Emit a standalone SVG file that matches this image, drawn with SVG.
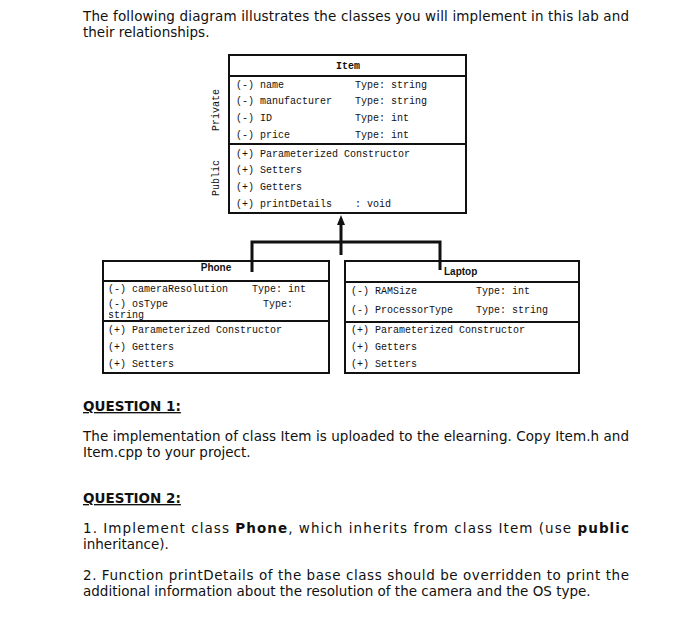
<svg xmlns="http://www.w3.org/2000/svg" width="700" height="631" viewBox="0 0 700 631">
<style>
.p{font-family:"DejaVu Sans","Liberation Sans",sans-serif;font-size:13.5px;fill:#111}
.q{font-family:"DejaVu Sans","Liberation Sans",sans-serif;font-size:13.5px;font-weight:bold;fill:#111;text-decoration:underline}
.m{font-family:"Liberation Mono","DejaVu Sans Mono",monospace;font-size:10px;fill:#111}
.t{font-family:"Liberation Sans","DejaVu Sans",sans-serif;font-size:10px;font-weight:bold;fill:#111}
.tm{font-family:"Liberation Mono","DejaVu Sans Mono",monospace;font-size:10px;font-weight:bold;fill:#111}
.box{fill:#fff;stroke:#111;stroke-width:2}
.ln{stroke:#111;stroke-width:2;fill:none}
.c{stroke:#111;stroke-width:3;fill:none}
</style>
<defs>
<marker id="ah" markerWidth="8" markerHeight="8" refX="4" refY="4" orient="auto" markerUnits="userSpaceOnUse">
<path d="M0,8 L4,0 L8,8 Z" fill="#111"/>
</marker>
</defs>
<rect width="700" height="631" fill="#fff"/>
<text class="p" x="83" y="21" textLength="546" lengthAdjust="spacing">The following diagram illustrates the classes you will implement in this lab and</text>
<text class="p" x="83" y="37">their relationships.</text>

<g id="Item">
<rect class="box" x="229" y="55" width="237" height="158"/>
<line class="ln" x1="229" y1="76" x2="466" y2="76"/>
<line class="ln" x1="229" y1="144" x2="466" y2="144"/>
<text class="tm" x="348" y="69" text-anchor="middle">Item</text>
<text class="m" x="236" y="88">(-) name</text><text class="m" x="355" y="88">Type: string</text>
<text class="m" x="236" y="104">(-) manufacturer</text><text class="m" x="355" y="104">Type: string</text>
<text class="m" x="236" y="121">(-) ID</text><text class="m" x="355" y="121">Type: int</text>
<text class="m" x="236" y="138">(-) price</text><text class="m" x="355" y="138">Type: int</text>
<text class="m" x="236" y="157">(+) Parameterized Constructor</text>
<text class="m" x="236" y="173">(+) Setters</text>
<text class="m" x="236" y="190">(+) Getters</text>
<text class="m" x="236" y="207">(+) printDetails</text><text class="m" x="355" y="207">: void</text>
<text class="m" transform="translate(219,110) rotate(-90)" text-anchor="middle">Private</text>
<text class="m" transform="translate(219,178) rotate(-90)" text-anchor="middle">Public</text>
</g>

<g id="Phone">
<rect class="box" x="103" y="261" width="226" height="112"/>
<line class="ln" x1="103" y1="281" x2="329" y2="281"/>
<line class="ln" x1="103" y1="321" x2="329" y2="321"/>
<text class="t" x="216" y="271" text-anchor="middle">Phone</text>
<text class="m" x="108" y="292">(-) cameraResolution</text><text class="m" x="252" y="292">Type: int</text>
<text class="m" x="108" y="307">(-) osType</text><text class="m" x="263" y="307">Type:</text>
<text class="m" x="108" y="318">string</text>
<text class="m" x="108" y="333">(+) Parameterized Constructor</text>
<text class="m" x="108" y="350">(+) Getters</text>
<text class="m" x="108" y="367">(+) Setters</text>
</g>

<g id="Laptop">
<rect class="box" x="345" y="261" width="234" height="112"/>
<line class="ln" x1="345" y1="282" x2="579" y2="282"/>
<line class="ln" x1="345" y1="322" x2="579" y2="322"/>
<text class="t" x="444" y="275">Laptop</text>
<text class="m" x="351" y="294">(-) RAMSize</text><text class="m" x="476" y="294">Type: int</text>
<text class="m" x="351" y="313">(-) ProcessorType</text><text class="m" x="476" y="313">Type: string</text>
<text class="m" x="351" y="333">(+) Parameterized Constructor</text>
<text class="m" x="351" y="350">(+) Getters</text>
<text class="m" x="351" y="367">(+) Setters</text>
</g>

<g id="connectors">
<polyline class="c" points="252,272 252,242 440,242 440,270"/>
<line class="c" x1="341" y1="255" x2="341" y2="220"/>
<path d="M337,225 L341,215 L345,225 Z" fill="#111"/>
</g>

<text class="q" x="83" y="411">QUESTION 1:</text>
<text class="p" x="83" y="441" textLength="546" lengthAdjust="spacing">The implementation of class Item is uploaded to the elearning. Copy Item.h and</text>
<text class="p" x="83" y="457">Item.cpp to your project.</text>
<text class="q" x="83" y="503">QUESTION 2:</text>
<text class="p" x="83" y="533" textLength="546" lengthAdjust="spacing">1. Implement class <tspan font-weight="bold">Phone</tspan>, which inherits from class Item (use <tspan font-weight="bold">public</tspan></text>
<text class="p" x="83" y="549">inheritance).</text>
<text class="p" x="83" y="580" textLength="546" lengthAdjust="spacing">2. Function printDetails of the base class should be overridden to print the</text>
<text class="p" x="83" y="596">additional information about the resolution of the camera and the OS type.</text>
</svg>
